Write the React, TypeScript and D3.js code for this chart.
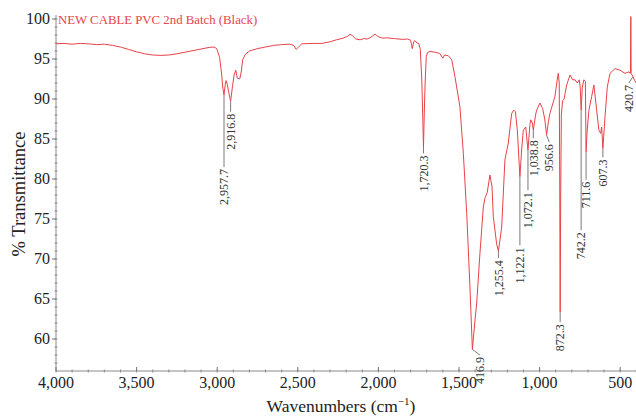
import React from "react";
import * as d3 from "d3";

const WIDTH = 636;
const HEIGHT = 416;

const TITLE = "NEW CABLE PVC 2nd Batch (Black)";
const X_LABEL = "Wavenumbers (cm";
const Y_LABEL = "% Transmittance";

const X_TICKS = [4000, 3500, 3000, 2500, 2000, 1500, 1000, 500];
const Y_TICKS = [60, 65, 70, 75, 80, 85, 90, 95, 100];

// wavenumber (cm-1) and % transmittance
const WAVENUMBER = [
  4000, 3950, 3900, 3850, 3800, 3750, 3700, 3650, 3600, 3550, 3500, 3450, 3400, 3350, 3300, 3250, 3200, 3150, 3100, 3050,
  3020, 3003, 2985, 2972, 2966, 2957.7, 2950, 2945, 2937, 2928, 2916.8, 2905, 2895, 2885, 2875, 2860, 2850, 2842, 2825, 2800,
  2750, 2700, 2650, 2600, 2550, 2525, 2510, 2495, 2475, 2400, 2350, 2300, 2260, 2220, 2190, 2176, 2160, 2140, 2114, 2090,
  2070, 2052, 2035, 2021, 2005, 1990, 1972, 1950, 1900, 1850, 1820, 1800, 1790, 1780, 1773, 1760, 1750, 1740, 1731, 1725,
  1720.3, 1715, 1710, 1703, 1695, 1680, 1650, 1620, 1600, 1590, 1566, 1545, 1525, 1494, 1473, 1452, 1432, 1416.9, 1400, 1390,
  1370, 1349, 1339, 1325, 1308, 1295, 1287, 1266, 1255.4, 1245, 1235, 1215, 1194, 1173, 1160, 1150, 1138, 1122.1, 1110, 1101,
  1086, 1072.1, 1060, 1055, 1045, 1038.8, 1025, 1018, 998, 981, 968, 956.6, 945, 936, 905, 890, 884, 878, 875, 872.3,
  869, 865, 857, 848, 832, 811, 795, 780, 766, 754, 748, 742.2, 735, 725, 716, 711.6, 705, 694, 677, 663,
  646, 632, 621, 615, 607.3, 594, 580, 563, 532, 501, 470, 445, 438, 436, 434, 432, 420.7, 410, 400,
];
const TRANSMITTANCE = [
  96.9, 96.95, 96.85, 96.95, 96.9, 96.8, 96.85, 96.7, 96.5, 96.2, 95.9, 95.65, 95.5, 95.45, 95.5, 95.65, 95.85, 96.05, 96.25, 96.45,
  96.5, 96.3, 95.2, 93.0, 91.5, 90.5, 91.8, 92.3, 91.8, 90.8, 89.7, 91.6, 93.0, 93.6, 92.6, 92.5, 93.5, 94.9, 95.6, 96.0,
  96.3, 96.5, 96.7, 96.8, 96.85, 96.7, 96.2, 96.5, 96.9, 96.95, 96.95, 97.15, 97.4, 97.6, 97.85, 98.1, 97.9, 97.5, 97.4, 97.55,
  97.5, 97.65, 97.9, 98.1, 97.85, 97.7, 97.6, 97.65, 97.55, 97.45, 97.5, 97.35, 96.3, 97.2, 97.3, 97.0, 96.95, 96.2, 92.5, 88.0,
  84.0, 88.5, 92.0, 95.3, 95.8, 95.95, 95.85, 95.7, 95.1, 95.5, 95.4, 94.9, 92.8, 89.0, 83.2, 75.7, 66.5, 58.7, 62.5, 64.5,
  70.7, 76.5, 77.6, 78.3, 80.5, 79.0, 75.3, 71.8, 71.0, 72.5, 74.0, 82.4, 84.5, 88.2, 88.6, 88.4, 86.1, 80.3, 84.0, 86.1,
  86.5, 83.6, 86.8, 87.4, 87.0, 86.1, 88.0, 88.6, 89.5, 88.8, 87.5, 85.5, 87.2, 88.2, 90.3, 92.5, 93.2, 92.0, 80.0, 63.4,
  78.0, 88.0, 89.8, 90.0, 91.75, 93.0, 92.4, 92.4, 92.0, 92.4, 91.5, 88.6, 91.5, 92.4, 92.2, 83.4, 86.0, 88.6, 90.3, 91.75,
  88.6, 86.1, 85.7, 86.5, 83.8, 87.8, 91.5, 93.2, 93.8, 93.6, 93.2, 93.4, 93.2, 93.3, 100.3, 93.2, 92.8, 92.3, 92.0,
];

// peak annotations: peak wavenumber, text, %T at the peak, %T where the leader ends, wavenumber of the text
const PEAK_WN = [2957.7, 2916.8, 1720.3, 1416.9, 1255.4, 1122.1, 1072.1, 1038.8, 956.6, 872.3, 742.2, 711.6, 607.3, 420.7];
const PEAK_TEXT = ["2,957.7", "2,916.8", "1,720.3", "416.9", "1,255.4", "1,122.1", "1,072.1", "1,038.8", "956.6", "872.3", "742.2", "711.6", "607.3", "420.7"];
const PEAK_T = [90.5, 89.7, 84.0, 58.7, 71.0, 80.3, 83.6, 86.1, 85.5, 63.4, 88.6, 83.4, 83.8, 92.8];
const LEADER_END_T = [81.5, 88.4, 83.2, 58.0, 70.1, 71.7, 78.6, 85.1, 84.6, 62.1, 73.6, 79.9, 82.7, 92.0];
const TEXT_WN = [2957.7, 2916.8, 1720.3, 1370, 1255.4, 1122.1, 1072.1, 1038.8, 940, 872.3, 742.2, 711.6, 607.3, 446];

const FONT = "'Liberation Serif', 'Times New Roman', serif";
const RED = "#e8424a";

export default function App() {
  const x = d3.scaleLinear().domain([4000, 400]).range([56, 636.3]);
  const y = d3.scaleLinear().domain([56, 100.5]).range([371, 15]);

  const pts: [number, number][] = WAVENUMBER.map((w, i) => [w, TRANSMITTANCE[i]]);
  const line = d3
    .line<[number, number]>()
    .x((d) => x(d[0]))
    .y((d) => y(d[1]))
    .curve(d3.curveLinear);

  const fmt = d3.format(",");
  const xMinor = d3.range(4000, 399, -100);
  const yMinor = d3.range(57, 101, 1);
  const [x0, x1] = x.range();
  const [y0, y1] = y.range();

  return (
    <svg
      width={WIDTH}
      height={HEIGHT}
      style={{ position: "absolute", left: 0, top: 0, background: "#fff" }}
      fontFamily={FONT}
    >
      <rect width={WIDTH} height={HEIGHT} fill="#fff" />
      {/* axes */}
      <line x1={x0} x2={x0} y1={y1} y2={y0} stroke="#8a8a8a" strokeWidth={1} />
      <line x1={x0} x2={x1} y1={y0} y2={y0} stroke="#8a8a8a" strokeWidth={1} />
      {yMinor.map((v) => (
        <line key={"ym" + v} x1={x0 - 1.5} x2={x0 + 1.5} y1={y(v)} y2={y(v)} stroke="#8a8a8a" strokeWidth={1} />
      ))}
      {xMinor.map((v) => (
        <line key={"xm" + v} x1={x(v)} x2={x(v)} y1={y0 - 1.5} y2={y0 + 1.5} stroke="#8a8a8a" strokeWidth={1} />
      ))}
      {Y_TICKS.map((v) => (
        <g key={"yt" + v}>
          <line x1={x0 - 4} x2={x0} y1={y(v)} y2={y(v)} stroke="#777" strokeWidth={1} />
          <text x={x0 - 6} y={y(v)} dy="0.34em" textAnchor="end" fontSize={16} fill="#222">
            {v}
          </text>
        </g>
      ))}
      {X_TICKS.map((v) => (
        <g key={"xt" + v}>
          <line x1={x(v)} x2={x(v)} y1={y0} y2={y0 - 4} stroke="#777" strokeWidth={1} />
          <text x={x(v)} y={388} textAnchor="middle" fontSize={16} fill="#222">
            {fmt(v)}
          </text>
        </g>
      ))}
      {/* axis titles */}
      <text x={341} y={412} textAnchor="middle" fontSize={17.5} fill="#222">
        {X_LABEL}
        <tspan fontSize={11} dy={-7}>−1</tspan>
        <tspan dy={7}>)</tspan>
      </text>
      <text
        transform={`translate(25, 194) rotate(-90)`}
        textAnchor="middle"
        fontSize={18.5}
        fill="#222"
      >
        {Y_LABEL}
      </text>

      {/* peak leaders & labels */}
      {PEAK_WN.map((w, i) => {
        const px = x(w);
        const tx = x(TEXT_WN[i]);
        const yEnd = y(LEADER_END_T[i]);
        return (
          <g key={"pk" + i}>
            <line x1={px} x2={tx} y1={y(PEAK_T[i])} y2={yEnd} stroke="#7a7a7a" strokeWidth={1} />
            <text
              transform={`translate(${tx}, ${yEnd + 2}) rotate(-90)`}
              textAnchor="end"
              dy="0.35em"
              fontSize={12}
              fill="#333"
            >
              {PEAK_TEXT[i]}
            </text>
          </g>
        );
      })}

      {/* spectrum */}
      <path d={line(pts) || ""} fill="none" stroke={RED} strokeWidth={1} strokeLinejoin="round" />

      <text x={58} y={24} fontSize={12.8} fill={RED}>
        {TITLE}
      </text>
    </svg>
  );
}
